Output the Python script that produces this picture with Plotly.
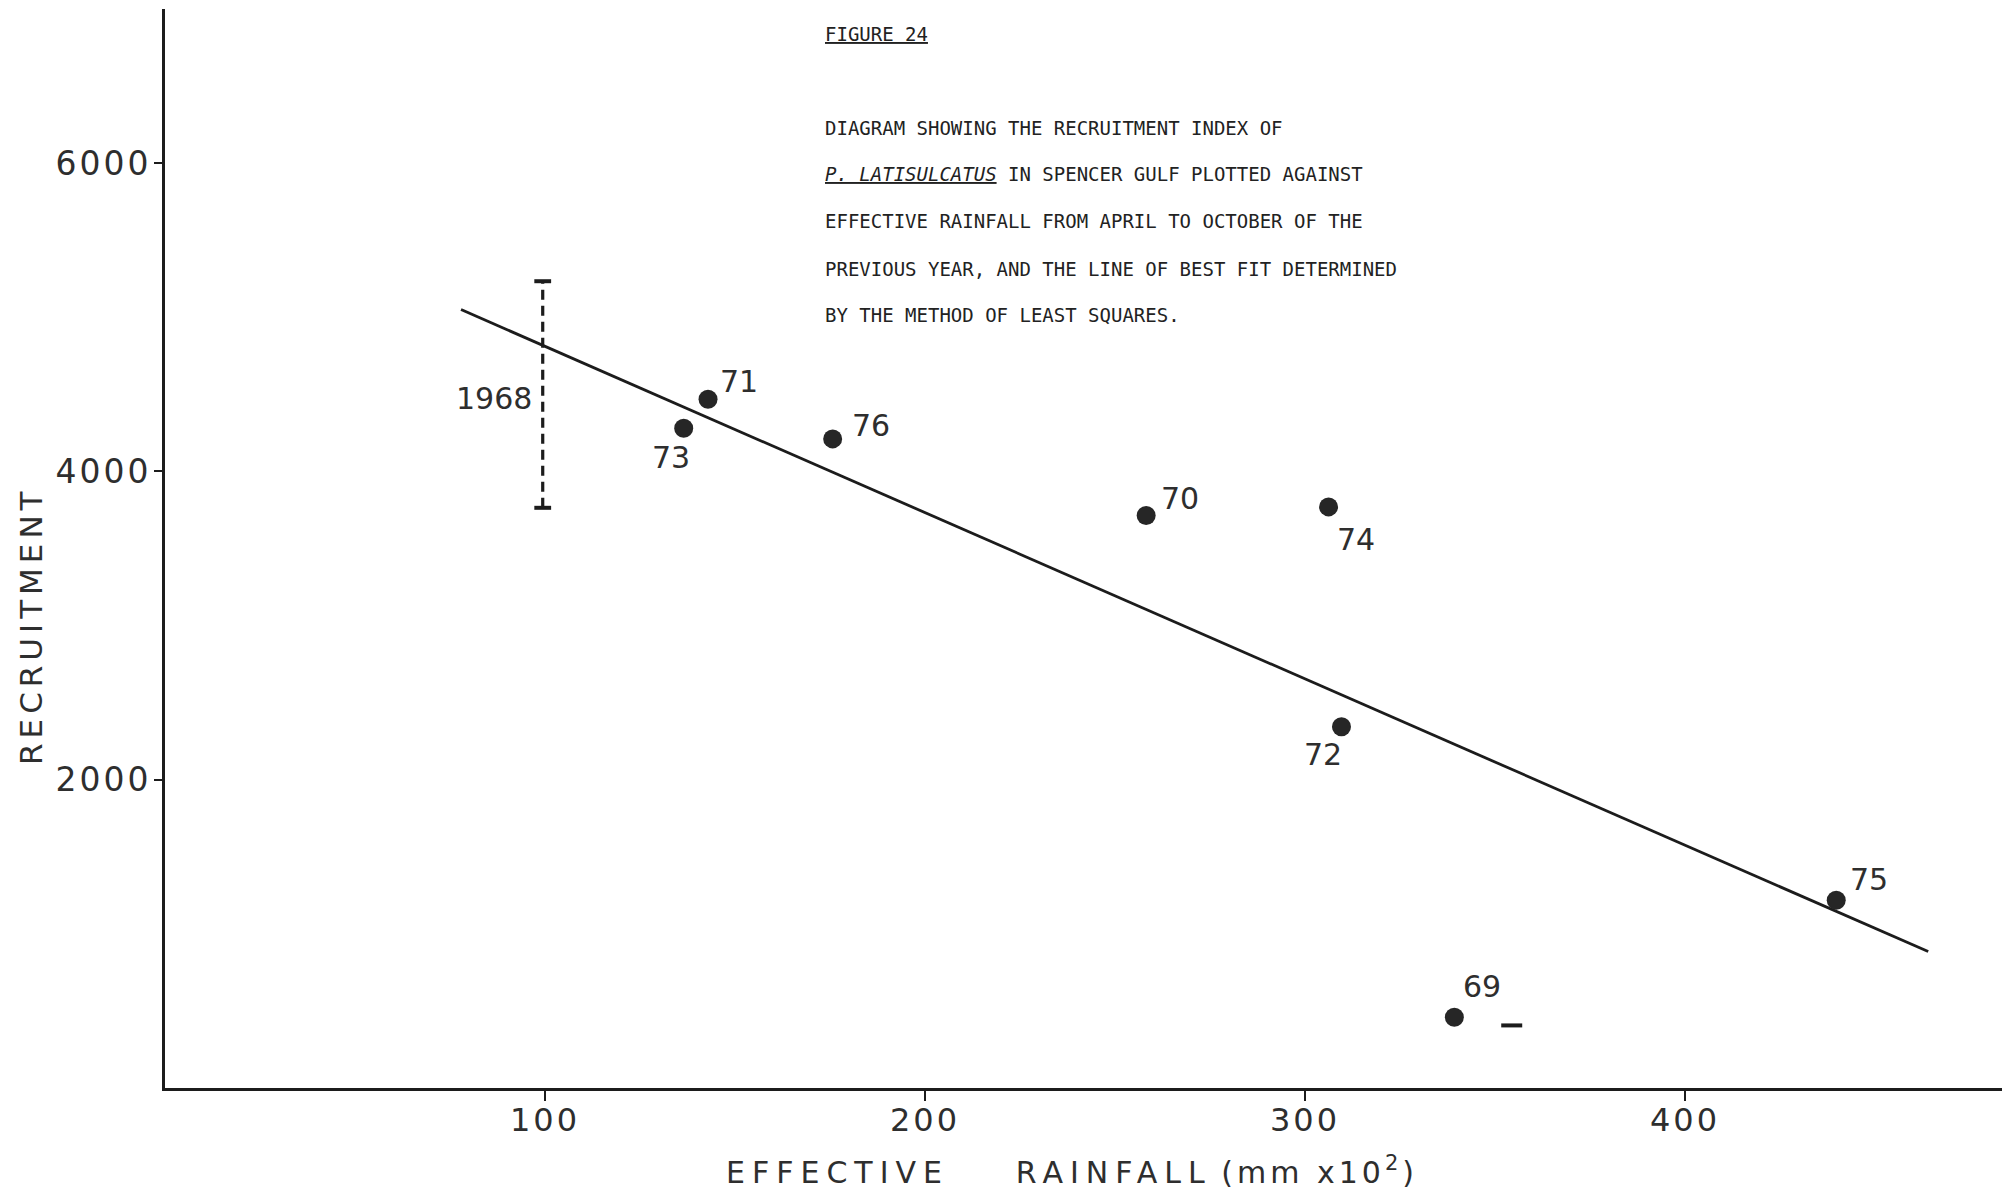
import plotly.graph_objects as go

# Recruitment index of P. latisulcatus (Spencer Gulf) by season, 1969-1976,
# against effective rainfall (April-October of the previous year).
years = ["69", "70", "71", "72", "73", "74", "75", "76"]
rainfall = [339.3, 258.2, 142.9, 309.6, 136.5, 306.2, 439.8, 175.7]
recruitment = [459, 3714, 4468, 2343, 4280, 3770, 1218, 4211]

# 1968: rainfall known, recruitment only known as a range
rain_1968 = [99.4, 99.4]
recruit_1968 = [3764, 5234]
label_1968 = "1968"

# least-squares line of best fit, end points
fit_rain = [77.9, 464.0]
fit_recruit = [5050, 885]

# small stray pen mark beside the 1969 point
mark_rain = [354.4]
mark_recruit = [406]

x_tick_vals = [100, 200, 300, 400]
x_tick_text = ["100", "200", "300", "400"]
y_tick_vals = [2000, 4000, 6000]
y_tick_text = ["2000", "4000", "6000"]

caption_head = "<u>FIGURE 24</u>"
caption_lines = [
    "DIAGRAM SHOWING THE RECRUITMENT INDEX OF",
    "<i><u>P. LATISULCATUS</u></i> IN SPENCER GULF PLOTTED AGAINST",
    "EFFECTIVE RAINFALL FROM APRIL TO OCTOBER OF THE",
    "PREVIOUS YEAR, AND THE LINE OF BEST FIT DETERMINED",
    "BY THE METHOD OF LEAST SQUARES.",
]

# ---- page geometry (pixels) ----
W, H = 2002, 1193
M_L, M_R, M_T, M_B = 165, 0, 9, 105
PLOT_H = H - M_T - M_B
PLOT_W = W - M_L - M_R


def paper_y(py):
    return (H - M_B - py) / PLOT_H


def paper_x(px):
    return (px - M_L) / PLOT_W


def spaced(s, px):
    return '<span style="letter-spacing:%spx">%s</span>' % (px, s)


INK = "#1c1c1c"
TEXT = "#2e2e2e"
SANS = "DejaVu Sans"
MONO = "DejaVu Sans Mono"

# pixel offsets of each year label from its point (right, down)
label_offsets = {
    "69": (28, -31), "70": (34, -17), "71": (31, -18), "72": (-18, 28),
    "73": (-13, 29), "74": (27, 33), "75": (33, -21), "76": (38, -13),
}

fig = go.Figure()

# line of best fit
fig.add_trace(go.Scatter(
    x=fit_rain, y=fit_recruit, mode="lines",
    line=dict(color=INK, width=2.8), hoverinfo="skip", showlegend=False,
))

# 1968 range (dashed, with end bars)
fig.add_trace(go.Scatter(
    x=rain_1968, y=recruit_1968, mode="lines+markers",
    line=dict(color=INK, width=3.2, dash="10px,6px"),
    marker=dict(symbol="line-ew", size=12, line=dict(color=INK, width=4)),
    hoverinfo="skip", showlegend=False,
))

# yearly points
fig.add_trace(go.Scatter(
    x=rainfall, y=recruitment, mode="markers",
    marker=dict(size=19, color="#262626"),
    text=years, hoverinfo="text", showlegend=False,
))

fig.add_trace(go.Scatter(
    x=mark_rain, y=mark_recruit, mode="markers",
    marker=dict(symbol="line-ew", size=15, line=dict(color=INK, width=4)),
    hoverinfo="skip", showlegend=False,
))

annotations = []
for yr, xv, yv in zip(years, rainfall, recruitment):
    dx, dy = label_offsets[yr]
    annotations.append(dict(
        x=xv, y=yv, xref="x", yref="y", text=yr, showarrow=False,
        xshift=dx, yshift=-dy, xanchor="center", yanchor="middle",
        font=dict(family=SANS, size=30, color=TEXT),
    ))

annotations.append(dict(
    x=rain_1968[0], y=4473, xref="x", yref="y", text=label_1968,
    showarrow=False, xshift=-9, xanchor="right", yanchor="middle",
    font=dict(family=SANS, size=30, color=TEXT),
))

# caption block
annotations.append(dict(
    x=paper_x(823), y=paper_y(34), xref="paper", yref="paper",
    text=caption_head, showarrow=False, xanchor="left", yanchor="middle",
    font=dict(family=MONO, size=19, color="#222222"),
))
for line, py in zip(caption_lines, [127.7, 174.0, 221.3, 268.7, 314.6]):
    annotations.append(dict(
        x=paper_x(823), y=paper_y(py), xref="paper", yref="paper",
        text=line, showarrow=False, xanchor="left", yanchor="middle",
        font=dict(family=MONO, size=19, color="#222222"),
    ))

# axis titles
annotations.append(dict(
    x=paper_x(1072), y=paper_y(1170), xref="paper", yref="paper",
    text=spaced("EFFECTIVE", 7)
         + "\u00a0" * 7
         + spaced("RAINFALL", 7) + "\u00a0"
         + spaced("(mm x10<sup>2</sup>)", 4),
    showarrow=False, xanchor="center", yanchor="middle",
    font=dict(family=SANS, size=30, color=TEXT),
))
annotations.append(dict(
    x=paper_x(31), y=paper_y(626), xref="paper", yref="paper",
    text=spaced("RECRUITMENT", 5),
    textangle=-90, showarrow=False, xanchor="center", yanchor="middle",
    font=dict(family=SANS, size=31, color=TEXT),
))

fig.update_layout(
    width=W, height=H,
    margin=dict(l=M_L, r=M_R, t=M_T, b=M_B, pad=0),
    paper_bgcolor="white", plot_bgcolor="white",
    annotations=annotations,
    xaxis=dict(
        range=[0, PLOT_W / 3.80], showgrid=False, zeroline=False,
        showline=True, linecolor=INK, linewidth=3,
        tickmode="array", tickvals=x_tick_vals,
        ticktext=[spaced(t, 3) for t in x_tick_text],
        ticks="outside", ticklen=10, tickwidth=2, tickcolor=INK,
        tickfont=dict(family=SANS, size=32, color=TEXT),
        ticklabelstandoff=-8,
    ),
    yaxis=dict(
        range=[0, 7000], showgrid=False, zeroline=False,
        showline=True, linecolor=INK, linewidth=3,
        tickmode="array", tickvals=y_tick_vals,
        ticktext=[spaced(t, 3) for t in y_tick_text],
        ticks="outside", ticklen=8, tickwidth=2, tickcolor=INK,
        tickfont=dict(family=SANS, size=33, color=TEXT),
        ticklabelstandoff=-4,
    ),
)

fig.write_html("out.html")
